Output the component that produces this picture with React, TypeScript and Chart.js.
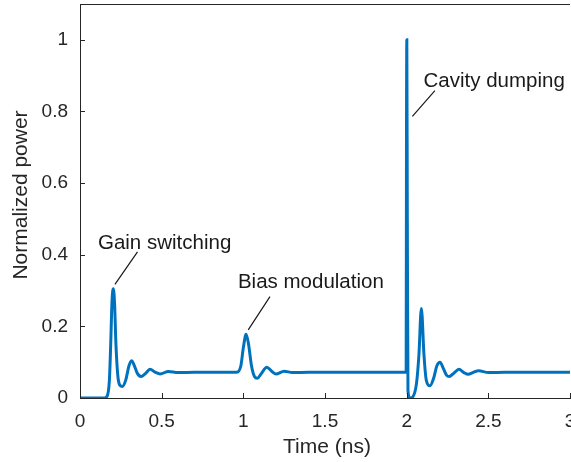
import React, { useEffect, useRef } from "react";
import { Chart, registerables } from "chart.js";

Chart.register(...registerables);

// ---- data ----
const timeNs = [
  0, 0.15, 0.165, 0.18, 0.188, 0.196, 0.204, 0.212, 0.22, 0.232, 0.245, 0.259,
  0.28, 0.3, 0.316, 0.333, 0.352, 0.374, 0.4, 0.429, 0.46, 0.49, 0.541, 0.6,
  0.7, 0.96, 0.985, 1.0, 1.017, 1.032, 1.05, 1.068, 1.086, 1.11, 1.143, 1.175,
  1.2, 1.25, 1.3, 1.4, 1.997, 1.999, 2.001, 2.004, 2.008, 2.02, 2.035, 2.06,
  2.075, 2.09, 2.106, 2.12, 2.143, 2.165, 2.185, 2.204, 2.225, 2.245, 2.26,
  2.29, 2.32, 2.35, 2.376, 2.41, 2.44, 2.5, 2.6, 3.0,
];
const power = [
  0, 0, 0.004, 0.05, 0.15, 0.27, 0.305, 0.26, 0.15, 0.06, 0.035, 0.032,
  0.05, 0.09, 0.104, 0.09, 0.068, 0.06, 0.068, 0.08, 0.072, 0.067, 0.074, 0.071,
  0.072, 0.072, 0.09, 0.14, 0.178, 0.15, 0.09, 0.06, 0.055, 0.068, 0.086, 0.074,
  0.067, 0.075, 0.071, 0.072, 0.072, 0.75, 1.0, 0.5, 0.02, 0.0, 0.002, 0.04,
  0.12, 0.25, 0.12, 0.05, 0.034, 0.055, 0.09, 0.1, 0.082, 0.063, 0.06,
  0.07, 0.08, 0.071, 0.066, 0.072, 0.076, 0.071, 0.072, 0.072,
];
const xTickValues = [0, 0.5, 1, 1.5, 2, 2.5, 3];
const yTickValues = [0, 0.2, 0.4, 0.6, 0.8, 1];
const xRange = [0, 3];
const yRange = [0, 1.1];
const xTitle = "Time (ns)";
const yTitle = "Normalized power";
const annotationTexts = ["Gain switching", "Bias modulation", "Cavity dumping"];
const annotationTextAt = [
  [0.11, 0.417],
  [0.967, 0.308],
  [2.103, 0.868],
];
const annotationLineFrom = [
  [0.214, 0.317],
  [1.03, 0.19],
  [2.035, 0.786],
];
const annotationLineTo = [
  [0.352, 0.408],
  [1.163, 0.283],
  [2.173, 0.858],
];

// ---- styles ----
const FONT = '"Liberation Sans", Arial, sans-serif';
const AXIS_COLOR = "#262626";
const LINE_COLOR = "#0072BD";
const CANVAS_W = 590;
const CANVAS_H = 462;

const decorPlugin = {
  id: "decor",
  afterDraw(chart: any) {
    const { ctx, chartArea, scales } = chart;
    const xs = scales.x;
    const ys = scales.y;
    ctx.save();
    ctx.strokeStyle = AXIS_COLOR;
    ctx.lineWidth = 1;
    // top box line
    ctx.beginPath();
    ctx.moveTo(chartArea.left, Math.round(chartArea.top) + 0.5);
    ctx.lineTo(chartArea.right, Math.round(chartArea.top) + 0.5);
    ctx.stroke();
    // inward ticks
    const tick = 5;
    ctx.beginPath();
    xTickValues.forEach((v) => {
      const px = Math.round(xs.getPixelForValue(v)) + 0.5;
      ctx.moveTo(px, chartArea.bottom);
      ctx.lineTo(px, chartArea.bottom - tick);
    });
    yTickValues.forEach((v) => {
      const py = Math.round(ys.getPixelForValue(v)) + 0.5;
      ctx.moveTo(chartArea.left, py);
      ctx.lineTo(chartArea.left + tick, py);
    });
    ctx.stroke();

    // annotation lines
    ctx.strokeStyle = "#1a1a1a";
    ctx.lineWidth = 1.2;
    ctx.beginPath();
    annotationLineFrom.forEach((a, i) => {
      const b = annotationLineTo[i];
      ctx.moveTo(xs.getPixelForValue(a[0]), ys.getPixelForValue(a[1]));
      ctx.lineTo(xs.getPixelForValue(b[0]), ys.getPixelForValue(b[1]));
    });
    ctx.stroke();

    // annotation texts
    ctx.fillStyle = "#1a1a1a";
    ctx.font = `20.5px ${FONT}`;
    ctx.textAlign = "left";
    ctx.textBaseline = "alphabetic";
    annotationTexts.forEach((t, i) => {
      const p = annotationTextAt[i];
      ctx.fillText(t, xs.getPixelForValue(p[0]), ys.getPixelForValue(p[1]));
    });

    // axis titles
    ctx.fillStyle = AXIS_COLOR;
    ctx.font = `21px ${FONT}`;
    ctx.textAlign = "center";
    ctx.fillText(xTitle, (chartArea.left + chartArea.right) / 2 + 2, 453);
    ctx.translate(26.5, (chartArea.top + chartArea.bottom) / 2 - 6);
    ctx.rotate(-Math.PI / 2);
    ctx.fillText(yTitle, 0, 0);
    ctx.restore();
  },
};

export default function App() {
  const ref = useRef<HTMLCanvasElement | null>(null);
  useEffect(() => {
    if (!ref.current) return;
    const chart = new Chart(ref.current, {
      type: "line",
      data: {
        datasets: [
          {
            data: timeNs.map((t, i) => ({ x: t, y: power[i] })),
            borderColor: LINE_COLOR,
            borderWidth: 3,
            pointRadius: 0,
            fill: false,
            cubicInterpolationMode: "monotone",
          },
        ],
      },
      options: {
        responsive: false,
        animation: false,
        events: [],
        layout: { padding: { top: 4, left: 0, right: CANVAS_W - 570, bottom: 0 } },
        plugins: { legend: { display: false }, tooltip: { enabled: false } },
        scales: {
          x: {
            type: "linear",
            min: xRange[0],
            max: xRange[1],
            afterBuildTicks: (s: any) => {
              s.ticks = xTickValues.map((v) => ({ value: v }));
            },
            afterFit: (s: any) => {
              s.height = 64;
              s.paddingLeft = 0;
              s.paddingRight = 0;
            },
            grid: { display: false, drawTicks: false },
            border: { display: true, color: AXIS_COLOR, width: 1 },
            ticks: {
              autoSkip: false,
              maxRotation: 0,
              padding: 12,
              color: AXIS_COLOR,
              font: { family: FONT, size: 19 },
              callback: (v: any) => String(v),
            },
          },
          y: {
            type: "linear",
            min: yRange[0],
            max: yRange[1],
            afterBuildTicks: (s: any) => {
              s.ticks = yTickValues.map((v) => ({ value: v }));
            },
            afterFit: (s: any) => {
              s.width = 80;
              s.paddingTop = 0;
              s.paddingBottom = 0;
            },
            grid: { display: false, drawTicks: false },
            border: { display: true, color: AXIS_COLOR, width: 1 },
            ticks: {
              padding: 12,
              color: AXIS_COLOR,
              font: { family: FONT, size: 19 },
              callback: (v: any) => String(v),
            },
          },
        },
      },
      plugins: [decorPlugin],
    });
    return () => chart.destroy();
  }, []);

  return (
    <div
      style={{
        position: "fixed",
        left: 0,
        top: 0,
        width: 571,
        height: 462,
        overflow: "hidden",
        background: "#fff",
      }}
    >
      <canvas ref={ref} width={CANVAS_W} height={CANVAS_H} style={{ display: "block" }} />
    </div>
  );
}
